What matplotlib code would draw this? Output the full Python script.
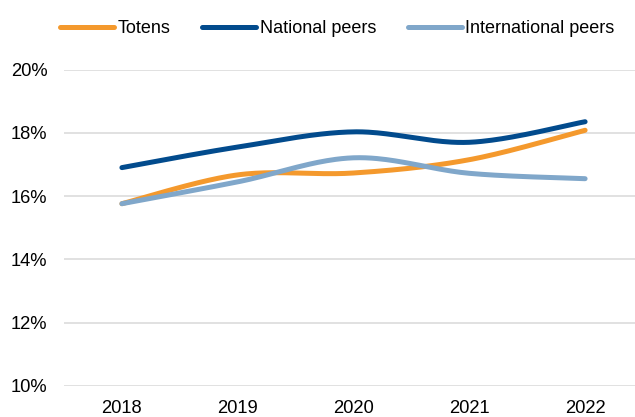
import numpy as np
import matplotlib
matplotlib.use("Agg")
import matplotlib.pyplot as plt
from matplotlib.ticker import FuncFormatter

plt.rcParams['font.family'] = ['Liberation Sans', 'DejaVu Sans']

# values (percent)
years = ['2018', '2019', '2020', '2021', '2022']
totens = [15.76, 16.67, 16.73, 17.15, 18.08]
national_peers = [16.90, 17.55, 18.03, 17.70, 18.35]
international_peers = [15.76, 16.45, 17.21, 16.72, 16.55]

series_names = ['Totens', 'National peers', 'International peers']
series_colors = ['#F4992D', '#024B8D', '#80A7CA']


def smooth(x, y, n=40):
    # Excel-style smoothed line: cubic Bezier with Catmull-Rom control points
    x = np.asarray(x, dtype=float)
    y = np.asarray(y, dtype=float)
    px = np.concatenate([[x[0]], x, [x[-1]]])
    py = np.concatenate([[y[0]], y, [y[-1]]])
    t = np.linspace(0, 1, n)[:, None]
    xs, ys = [], []
    for i in range(1, len(px) - 2):
        p0 = np.array([px[i], py[i]])
        p3 = np.array([px[i + 1], py[i + 1]])
        c1 = p0 + (np.array([px[i + 1], py[i + 1]]) - np.array([px[i - 1], py[i - 1]])) / 6
        c2 = p3 - (np.array([px[i + 2], py[i + 2]]) - p0) / 6
        pts = ((1 - t) ** 3) * p0 + 3 * ((1 - t) ** 2) * t * c1 + 3 * (1 - t) * t ** 2 * c2 + t ** 3 * p3
        xs.append(pts[:, 0])
        ys.append(pts[:, 1])
    return np.concatenate(xs), np.concatenate(ys)


fig = plt.figure(figsize=(6.35, 4.17), dpi=100)
# plot area runs slightly past the right edge, like the cropped original
ax = fig.add_axes([64 / 635, 31 / 417, 579 / 635, 316.5 / 417])

x = np.arange(len(years))
for vals, name, col in zip([totens, national_peers, international_peers], series_names, series_colors):
    sx, sy = smooth(x, vals)
    ax.plot(sx, sy, color=col, lw=3.6, solid_capstyle='round', label=name, zorder=3)

ax.set_xlim(-0.5, len(years) - 0.5)
ax.set_ylim(10, 20)
ax.set_yticks(np.arange(10, 21, 2))
ax.yaxis.set_major_formatter(FuncFormatter(lambda v, p: f'{v:.0f}%'))
ax.set_xticks(x)
ax.set_xticklabels(years)
ax.grid(axis='y', color='#D9D9D9', lw=1.1, zorder=0)
ax.tick_params(axis='both', length=0, labelsize=13.2, colors='#000000')
ax.tick_params(axis='y', pad=12)
ax.tick_params(axis='x', pad=10)
for s in ax.spines.values():
    s.set_visible(False)

fig.legend(loc='center', bbox_to_anchor=(0.531, 0.931), ncol=3, frameon=False,
           fontsize=13.0, handlelength=3.0, handletextpad=0.2, columnspacing=1.75)

fig.savefig('out.png', dpi=100)
